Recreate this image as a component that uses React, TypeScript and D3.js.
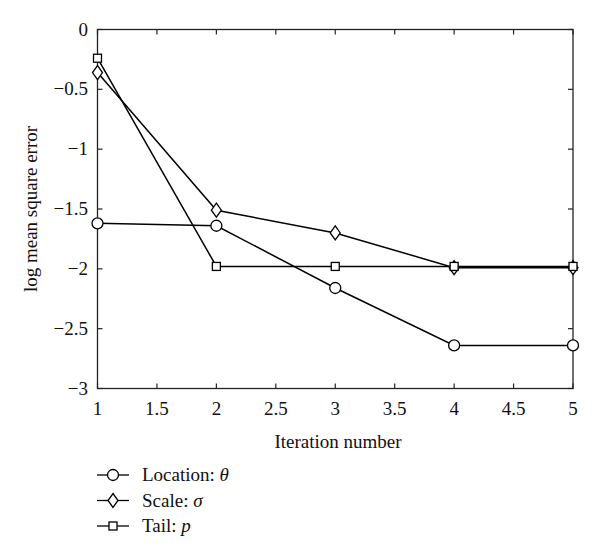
import React from "react";
import * as d3 from "d3";

const iterations = [1, 2, 3, 4, 5];
const locationTheta = [-1.62, -1.64, -2.16, -2.64, -2.64];
const scaleSigma = [-0.36, -1.51, -1.7, -1.99, -1.99];
const tailP = [-0.24, -1.98, -1.98, -1.98, -1.98];
const xTicks = [1, 1.5, 2, 2.5, 3, 3.5, 4, 4.5, 5];
const yTicks = [0, -0.5, -1, -1.5, -2, -2.5, -3];
const seriesNames = ["Location: ", "Scale: ", "Tail: "];
const seriesSymbols = ["θ", "σ", "p"];

const W = 600, H = 558;
const L = 97.5, R = 573, T = 29.5, B = 388.5;
const FONT = "'Liberation Serif', 'Times New Roman', serif";
const FS = 19;

function Marker({ kind, x, y }: { kind: number; x: number; y: number }) {
  if (kind === 0) return <circle cx={x} cy={y} r={5.5} fill="white" stroke="black" strokeWidth={1.3} />;
  if (kind === 1)
    return (
      <path
        d={`M${x},${y - 7} L${x + 5},${y} L${x},${y + 7} L${x - 5},${y} Z`}
        fill="white"
        stroke="black"
        strokeWidth={1.3}
      />
    );
  return <rect x={x - 4} y={y - 4} width={8} height={8} fill="white" stroke="black" strokeWidth={1.3} />;
}

export default function App() {
  const x = d3.scaleLinear().domain([1, 5]).range([L, R]);
  const y = d3.scaleLinear().domain([-3, 0]).range([B, T]);
  const series = [locationTheta, scaleSigma, tailP];
  const line = d3
    .line<number>()
    .x((_, i) => x(iterations[i]))
    .y((d) => y(d));
  const tl = 5;
  return (
    <svg width={W} height={H} style={{ position: "absolute", left: 0, top: 0, background: "white" }} fontFamily={FONT}>
      <rect x={0} y={0} width={W} height={H} fill="white" />
      <rect x={L} y={T} width={R - L} height={B - T} fill="none" stroke="#222" strokeWidth={1.3} />
      {xTicks.map((t) => (
        <g key={"x" + t}>
          <line x1={x(t)} x2={x(t)} y1={B} y2={B - tl} stroke="#222" strokeWidth={1.2} />
          <line x1={x(t)} x2={x(t)} y1={T} y2={T + tl} stroke="#222" strokeWidth={1.2} />
          <text x={x(t)} y={415} textAnchor="middle" fontSize={FS} fill="#111">
            {String(t)}
          </text>
        </g>
      ))}
      {yTicks.map((t) => (
        <g key={"y" + t}>
          <line x1={L} x2={L + tl} y1={y(t)} y2={y(t)} stroke="#222" strokeWidth={1.2} />
          <line x1={R} x2={R - tl} y1={y(t)} y2={y(t)} stroke="#222" strokeWidth={1.2} />
          <text x={88} y={y(t) + 6} textAnchor="end" fontSize={FS} fill="#111">
            {t === 0 ? "0" : "−" + String(Math.abs(t))}
          </text>
        </g>
      ))}
      <text x={338} y={448} textAnchor="middle" fontSize={FS} fill="#111">
        Iteration number
      </text>
      <text
        transform={`translate(37,${(T + B) / 2}) rotate(-90)`}
        textAnchor="middle"
        fontSize={FS}
        fill="#111"
      >
        log mean square error
      </text>
      {series.map((s, k) => (
        <g key={"s" + k}>
          <path d={line(s) || ""} fill="none" stroke="black" strokeWidth={1.5} />
        </g>
      ))}
      {series.map((s, k) => (
        <g key={"m" + k}>
          {s.map((v, i) => (
            <Marker key={i} kind={k} x={x(iterations[i])} y={y(v)} />
          ))}
        </g>
      ))}
      {seriesNames.map((n, k) => {
        const ly = 475 + k * 25.5;
        return (
          <g key={"l" + k}>
            <line x1={97} x2={129} y1={ly} y2={ly} stroke="black" strokeWidth={1.3} />
            <Marker kind={k} x={113} y={ly} />
            <text x={142} y={ly + 6} fontSize={FS} fill="#111">
              {n}
              <tspan fontStyle="italic">{seriesSymbols[k]}</tspan>
            </text>
          </g>
        );
      })}
    </svg>
  );
}
